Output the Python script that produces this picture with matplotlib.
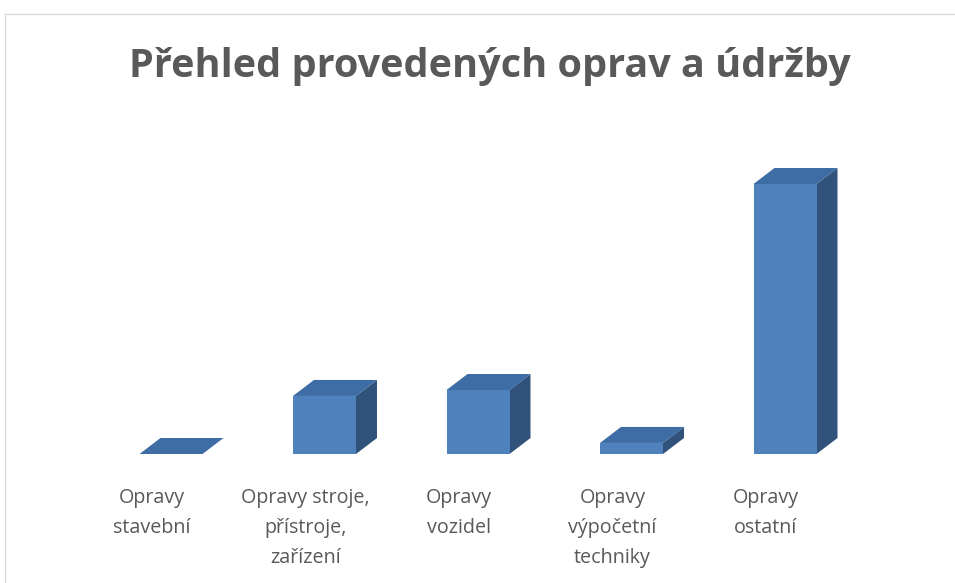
import matplotlib.pyplot as plt
from matplotlib.patches import Polygon
from matplotlib.lines import Line2D

categories = [
    "Opravy\nstavební",
    "Opravy stroje,\npřístroje,\nzařízení",
    "Opravy\nvozidel",
    "Opravy\nvýpočetní\ntechniky",
    "Opravy\nostatní",
]
values = [0, 215, 237, 41, 1000]

FRONT = "#4F81BD"
TOP = "#3E6CA5"
SIDE = "#30527B"
TEXT = "#595959"

W, H, DPI = 955, 583, 100
fig = plt.figure(figsize=(W / DPI, H / DPI), dpi=DPI)
ax = fig.add_axes([0, 0, 1, 1])

# pixel layout: category 0 at x=171px, 153.5px per category; value 0 at y=454px, 270px per 1000
px_per_cat = 153.5
x0_px = 171
base_px = 454
val_per_px = 1000 / 270
ax.set_xlim(-x0_px / px_per_cat, (W - x0_px) / px_per_cat)
ax.set_ylim(-(H - base_px) * val_per_px, base_px * val_per_px)
ax.axis("off")

bw = 63 / px_per_cat          # front face width
ddx = 21 / px_per_cat         # depth offset x
ddy = 16 * val_per_px         # depth offset y

for i, v in enumerate(values):
    l, r = i - bw / 2, i + bw / 2
    # side face
    ax.add_patch(Polygon([(r, 0), (r + ddx, ddy), (r + ddx, v + ddy), (r, v)],
                         closed=True, fc=SIDE, ec="none"))
    # top face
    ax.add_patch(Polygon([(l, v), (r, v), (r + ddx, v + ddy), (l + ddx, v + ddy)],
                         closed=True, fc=TOP, ec="none"))
    # front face
    if v > 0:
        ax.add_patch(Polygon([(l, 0), (r, 0), (r, v), (l, v)],
                             closed=True, fc=FRONT, ec="none"))

label_shift = 19 / px_per_cat
label_top = -34 * val_per_px
for i, cat in enumerate(categories):
    ax.text(i - label_shift, label_top, cat, ha="center", va="top",
            fontsize=14.2, color=TEXT, family="Open Sans", linespacing=1.66)

fig.text(0.513, 1 - 67 / H, "Přehled provedených oprav a údržby", ha="center",
         va="center", fontsize=28.5, fontweight="bold", color=TEXT, family="Open Sans")

# chart area border (top and left edges visible)
fig.add_artist(Line2D([5 / W, 1], [1 - 14 / H, 1 - 14 / H], color="#D9D9D9", lw=1))
fig.add_artist(Line2D([5 / W, 5 / W], [0, 1 - 14 / H], color="#D9D9D9", lw=1))

fig.savefig("out.png", dpi=DPI)
